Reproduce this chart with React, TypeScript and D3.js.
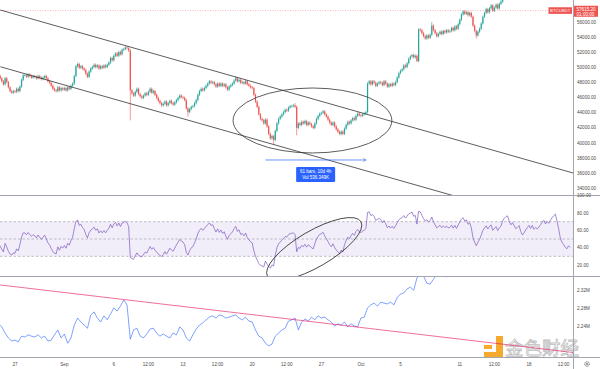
import React from 'react';
import * as d3 from 'd3';

const W = 600;
const H = 369;

// BTCUSDT 4h closes (thousand USDT), first bar 2021-08-23 00:00 UTC
const closes = [
  49.4, 49.7, 49.9, 49.5, 49.2, 49.0, // Aug 23
  48.6, 48.9, 48.4, 47.9, 47.6, 47.8,
  48.0, 48.4, 48.9, 48.6, 48.2, 47.8, // Aug 25
  48.6, 48.1, 47.4, 46.9, 46.7, 46.9,
  46.8, 47.2, 46.9, 47.5, 48.4, 49.0,
  49.0, 48.8, 49.1, 48.9, 48.7, 48.9,
  48.8, 48.6, 48.9, 48.7, 48.5, 48.7,
  48.9, 48.6, 48.2, 48.0, 47.6, 47.2, // Aug 30
  47.0, 46.9, 47.4, 47.0, 47.3, 47.1,
  47.3, 47.0, 47.4, 47.2, 47.6, 47.9, // Sep 1
  48.9, 50.2, 50.5, 50.0, 50.2, 49.9,
  49.7, 49.2, 48.8, 49.5, 49.9, 50.1,
  50.4, 50.1, 50.3, 49.9, 50.2, 50.0,
  50.3, 50.1, 50.4, 50.7, 51.3, 51.0, // Sep 5
  51.6, 51.9, 51.6, 52.1, 51.8, 52.4,
  52.5, 52.7, 52.6, 52.3, 47.0, 46.6,
  46.3, 46.8, 47.2, 46.5, 46.2, 46.0,
  46.3, 46.6, 46.4, 46.8, 47.2, 46.7,
  46.9, 46.4, 46.0, 45.6, 45.3, 45.0, // Sep 10
  45.2, 45.5, 45.0, 45.3, 45.6, 45.3,
  45.1, 45.4, 45.7, 46.0, 46.3, 46.1,
  46.0, 45.7, 44.6, 44.1, 44.5, 44.8,
  44.9, 45.3, 45.7, 46.4, 46.9, 47.2,
  47.0, 47.3, 47.6, 47.9, 48.2, 48.0, // Sep 15
  48.1, 47.8, 47.5, 47.9, 47.6, 47.9,
  47.6, 47.8, 47.4, 47.1, 47.5, 47.7,
  47.9, 48.3, 48.6, 48.2, 48.4, 48.0,
  48.1, 47.9, 48.2, 47.8, 47.6, 47.4,
  47.3, 46.4, 45.5, 44.8, 43.8, 43.2, // Sep 20
  43.0, 42.6, 43.1, 42.2, 41.2, 40.6,
  40.9, 40.4, 41.6, 42.6, 43.2, 43.5,
  43.8, 44.1, 44.4, 44.3, 44.7, 44.9,
  44.9, 45.0, 44.8, 42.0, 42.6, 42.4,
  42.8, 42.6, 42.9, 42.4, 42.7, 42.5, // Sep 25
  42.2, 42.0, 42.6, 43.2, 43.6, 43.9,
  44.0, 44.2, 43.8, 43.5, 43.1, 42.7,
  42.4, 42.7, 42.2, 41.8, 41.5, 41.2,
  41.5, 41.2, 41.9, 42.4, 42.8, 42.6,
  43.0, 43.3, 43.1, 43.6, 43.9, 43.7, // Sep 30
  43.6, 43.8, 43.9, 44.1, 47.9, 48.2, // Oct 1
  47.8, 48.2, 48.0, 47.6, 47.9, 48.1,
  48.0, 47.7, 48.2, 47.9, 47.5, 47.8,
  47.6, 47.9, 47.7, 48.1, 48.7, 49.3,
  49.6, 49.8, 50.3, 50.1, 50.6, 51.2, // Oct 5
  51.5, 51.7, 51.4, 51.6, 50.9, 55.1,
  55.0, 54.6, 54.2, 53.9, 54.3, 54.0,
  54.4, 55.6, 55.0, 54.6, 54.2, 54.5,
  54.8, 54.5, 54.9, 54.7, 55.0, 54.8,
  54.9, 55.3, 55.0, 55.5, 55.2, 55.8, // Oct 10
  56.4, 57.1, 57.5, 57.2, 57.4, 57.0,
  57.3, 56.8, 55.6, 54.9, 54.3, 54.8,
  55.2, 55.9, 56.8, 57.3, 57.8, 57.4,
  57.9, 58.3, 57.6, 58.0, 58.4, 57.9,
  58.5, 58.8, 60.2, 61.0, 61.6, 61.9, // Oct 15
  61.2, 60.8, 61.4, 61.0, 60.6, 60.9,
  61.3, 60.5, 60.0, 60.4, 61.0, 61.5,
  62.0, 61.6, 62.3, 61.8, 62.2, 62.0,
  62.4, 62.9, 63.5, 64.0, 63.6, 64.2,
  64.0, 64.8, 65.5, 66.2, 66.8, 66.0, // Oct 20
  65.0, 63.4, 62.5, 62.0, 61.3, 60.9,
  61.4, 61.0,
];

// long wicks
const wickLows: [string, number][] = [
  ['2021-09-07T16:00', 43.0],
  ['2021-09-13T12:00', 43.5],
  ['2021-09-22T04:00', 39.8],
  ['2021-09-24T12:00', 41.0],
  ['2021-09-29T00:00', 41.0],
  ['2021-10-12T16:00', 53.9],
];
const wickHighs: [string, number][] = [
  ['2021-09-07T04:00', 52.9],
  ['2021-09-18T08:00', 48.9],
  ['2021-09-24T08:00', 45.3],
  ['2021-10-08T04:00', 56.1],
  ['2021-10-15T04:00', 59.4],
];

// On-balance volume (millions), 8h steps from 2021-08-23 00:00 UTC
const obv = [
  2.262, 2.258, 2.255, 2.252, 2.248, 2.250,
  2.249, 2.245, 2.238, 2.224, 2.213, 2.206,
  2.208, 2.204, 2.217, 2.215, 2.220, 2.217,
  2.215, 2.220, 2.213, 2.217, 2.206, 2.208,
  2.220, 2.231, 2.213, 2.222, 2.201, 2.213, // Aug 31, Sep 1
  2.242, 2.258, 2.249, 2.242, 2.235, 2.265,
  2.272, 2.258, 2.249, 2.263, 2.254, 2.267,
  2.281, 2.274, 2.285, 2.299, 2.288, 2.210,
  2.231, 2.235, 2.217, 2.213, 2.222, 2.233,
  2.235, 2.224, 2.217, 2.222, 2.217, 2.213, // Sep 10, 11
  2.224, 2.220, 2.238, 2.231, 2.213, 2.206,
  2.220, 2.233, 2.242, 2.247, 2.254, 2.260,
  2.263, 2.258, 2.265, 2.263, 2.258, 2.260,
  2.263, 2.265, 2.258, 2.254, 2.260, 2.251,
  2.249, 2.231, 2.217, 2.213, 2.201, 2.195, // Sep 20, 21
  2.199, 2.217, 2.224, 2.231, 2.235, 2.251,
  2.254, 2.258, 2.231, 2.249, 2.256, 2.251,
  2.260, 2.254, 2.263, 2.258, 2.260, 2.254,
  2.249, 2.240, 2.245, 2.242, 2.249, 2.238,
  2.245, 2.240, 2.238, 2.258, 2.260, 2.281, // Sep 30, Oct 1
  2.288, 2.292, 2.285, 2.294, 2.292, 2.290,
  2.294, 2.288, 2.305, 2.312, 2.315, 2.324,
  2.328, 2.321, 2.349, 2.356, 2.353, 2.337,
  2.335, 2.346, 2.356, 2.353, 2.356, 2.351,
  2.360, 2.367, 2.371, 2.380, 2.392, 2.398, // Oct 10, 11
  2.390, 2.378, 2.372, 2.385, 2.398, 2.410,
  2.412, 2.418, 2.415, 2.425, 2.440, 2.452,
  2.448, 2.444, 2.446, 2.440, 2.436, 2.445,
  2.452, 2.450, 2.455, 2.462, 2.470, 2.475,
  2.482, 2.490, 2.487, 2.472, 2.462, 2.458,
];

// 58000 sits under the last-price label, so it is not listed
const priceTicks = d3.range(34, 56.1, 2);
const rsiTicks = [100, 80, 60, 40, 20];
const rsiLevels = [70, 50, 30];
const obvTicks = [2.32, 2.28, 2.24];
const timeTicks: [string, string][] = [
  ['2021-08-27T00:00', '27'],
  ['2021-09-01T00:00', 'Sep'],
  ['2021-09-06T00:00', '6'],
  ['2021-09-09T12:00', '12:00'],
  ['2021-09-13T00:00', '13'],
  ['2021-09-16T12:00', '12:00'],
  ['2021-09-20T00:00', '20'],
  ['2021-09-23T12:00', '12:00'],
  ['2021-09-27T00:00', '27'],
  ['2021-10-01T00:00', 'Oct'],
  ['2021-10-05T00:00', '5'],
  ['2021-10-11T00:00', '11'],
  ['2021-10-14T12:00', '12:00'],
  ['2021-10-18T00:00', '18'],
  ['2021-10-21T12:00', '12:00'],
];

const lastPrice = 57.6152;
const symbol = 'BTCUSDT';
const countdown = '01:00:00';

// drawings: trend channel, ellipses, range measure
const channel: [string, number, string, number][] = [
  ['2021-08-25T12:22', 57.69, '2021-10-22T10:48', 36.0],
  ['2021-08-25T12:22', 50.14, '2021-10-22T10:48', 28.45],
];
const obvTrend: [string, number, string, number] = ['2021-08-25T12:22', 2.333, '2021-10-22T10:48', 2.18];
const priceEllipse = { from: '2021-09-18T01:30', to: '2021-10-04T03:00', top: 47.31, bottom: 38.66 };
const rsiEllipse = { from: '2021-09-21T13:00', fromV: 7, to: '2021-10-01T00:00', toV: 70, minor: 18 };
const measure = { from: '2021-09-21T08:00', to: '2021-10-01T12:00', price: 37.73, bars: 61, span: '10d 4h', vol: '536.349K' };

const T = (s: string) => new Date(s + 'Z');
const t0 = Date.UTC(2021, 7, 23);
const H4 = 4 * 3600e3;
const H8 = 8 * 3600e3;

const UP = '#26a69a';
const DOWN = '#ef5350';
const FONT = 'Liberation Sans, Arial, sans-serif';

function calcRsi(v: number[], n = 14) {
  const out: (number | null)[] = v.map(() => null);
  let g = 0, l = 0;
  for (let i = 1; i <= n; i++) {
    const d = v[i] - v[i - 1];
    if (d > 0) g += d; else l -= d;
  }
  g /= n; l /= n;
  out[n] = l === 0 ? 100 : 100 - 100 / (1 + g / l);
  for (let i = n + 1; i < v.length; i++) {
    const d = v[i] - v[i - 1];
    g = (g * (n - 1) + Math.max(d, 0)) / n;
    l = (l * (n - 1) + Math.max(-d, 0)) / n;
    out[i] = l === 0 ? 100 : 100 - 100 / (1 + g / l);
  }
  return out;
}

export default function App() {
  const axisX = 573.5;
  const x = d3.scaleUtc().domain([T('2021-09-01T00:00'), T('2021-10-18T00:00')]).range([64.4, 529]);
  const yP = d3.scaleLinear().domain([34, 56]).range([188, 22.7]);
  const yR = d3.scaleLinear().domain([20, 80]).range([265, 213]);
  const yO = d3.scaleLinear().domain([2.24, 2.32]).range([326, 290.7]);

  const lowMap = new Map(wickLows.map(([s, v]) => [T(s).getTime(), v]));
  const highMap = new Map(wickHighs.map(([s, v]) => [T(s).getTime(), v]));
  const wick = 0.18;
  const candles = closes.map((c, i) => {
    const o = i === 0 ? c : closes[i - 1];
    const t = t0 + i * H4;
    const hi = highMap.get(t) ?? Math.max(o, c) + wick;
    const lo = lowMap.get(t) ?? Math.min(o, c) - wick;
    return { t: new Date(t), o, c, hi, lo };
  });

  const rsi = calcRsi(closes);
  const rsiLine = d3.line<number | null>()
    .defined(d => d !== null)
    .x((_, i) => x(new Date(t0 + i * H4)))
    .y(d => yR(d as number));

  const obvLine = d3.line<number>()
    .x((_, i) => x(new Date(t0 + i * H8)))
    .y(d => yO(d));

  const ex1 = x(T(priceEllipse.from)), ex2 = x(T(priceEllipse.to));
  const ey1 = yP(priceEllipse.top), ey2 = yP(priceEllipse.bottom);

  const rx1 = x(T(rsiEllipse.from)), ry1 = yR(rsiEllipse.fromV);
  const rx2 = x(T(rsiEllipse.to)), ry2 = yR(rsiEllipse.toV);
  const rcx = (rx1 + rx2) / 2, rcy = (ry1 + ry2) / 2;
  const rLen = Math.hypot(rx2 - rx1, ry2 - ry1) / 2;
  const rAng = (Math.atan2(ry2 - ry1, rx2 - rx1) * 180) / Math.PI;

  const mx1 = x(T(measure.from)), mx2 = x(T(measure.to)), my = yP(measure.price);
  const mcx = (mx1 + mx2) / 2;

  const lastY = yP(lastPrice);
  const txt = { fontFamily: FONT, fontSize: 4.6, fill: '#4a4a4a' } as const;

  return (
    <svg width={W} height={H} style={{ position: 'absolute', left: 0, top: 0, background: '#fff' }}>
      <defs>
        <clipPath id="cp"><rect x={0} y={0} width={axisX} height={195} /></clipPath>
        <clipPath id="cr"><rect x={0} y={196} width={axisX} height={80} /></clipPath>
        <clipPath id="co"><rect x={0} y={277} width={axisX} height={80.5} /></clipPath>
      </defs>
      <rect width={W} height={H} fill="#fff" />

      {/* watermark, drawn under everything */}
      <g opacity={0.95}>
        <path d="M484,345 h8 v4 h-8 z M496,336 h7 v22 h-19 v-6 h12 z" fill="#f5a623" />
        <text x={505} y={355} fontFamily="Noto Sans CJK SC" fontSize={18.5} fill="#fff" stroke="#bdbdbd" strokeWidth={0.8}>金色财经</text>
      </g>

      {/* price pane */}
      <g clipPath="url(#cp)">
        <line x1={0} x2={axisX} y1={lastY} y2={lastY} stroke={DOWN} strokeWidth={0.6} strokeDasharray="1 1.5" opacity={0.7} />
        {candles.map((d, i) => {
          const cx = x(d.t);
          const col = d.c >= d.o ? UP : DOWN;
          const top = yP(Math.max(d.o, d.c));
          const h = Math.max(0.6, yP(Math.min(d.o, d.c)) - top);
          return (
            <g key={i}>
              <line x1={cx} x2={cx} y1={yP(d.hi)} y2={yP(d.lo)} stroke={col} strokeWidth={0.6} />
              <rect x={cx - 0.6} y={top} width={1.2} height={h} fill={col} />
            </g>
          );
        })}
        {channel.map(([a, pa, b, pb], i) => (
          <line key={i} x1={x(T(a))} y1={yP(pa)} x2={x(T(b))} y2={yP(pb)} stroke="#333" strokeWidth={0.8} />
        ))}
        <ellipse cx={(ex1 + ex2) / 2} cy={(ey1 + ey2) / 2} rx={(ex2 - ex1) / 2} ry={(ey2 - ey1) / 2}
          fill="none" stroke="#333" strokeWidth={0.8} />
        <line x1={mx1} x2={mx2} y1={my} y2={my} stroke="#2962ff" strokeWidth={0.9} opacity={0.75} />
        <path d={`M${mx2 - 2.5},${my - 1.6} L${mx2},${my} L${mx2 - 2.5},${my + 1.6}`} fill="none" stroke="#2962ff" strokeWidth={0.8} opacity={0.75} />
        <rect x={mcx - 19.5} y={my + 7} width={39} height={15} rx={1} fill="#2962ff" />
        <text x={mcx} y={my + 13.2} textAnchor="middle" fontFamily={FONT} fontSize={4.5} fill="#fff">
          {`${measure.bars} bars, ${measure.span}`}
        </text>
        <text x={mcx} y={my + 19.2} textAnchor="middle" fontFamily={FONT} fontSize={4.5} fill="#fff">
          {`Vol ${measure.vol}`}
        </text>
      </g>

      {/* RSI pane */}
      <g clipPath="url(#cr)">
        <rect x={0} y={yR(70)} width={axisX} height={yR(30) - yR(70)} fill="#7e57c2" opacity={0.1} />
        {rsiLevels.map(v => (
          <line key={v} x1={0} x2={axisX} y1={yR(v)} y2={yR(v)} stroke="#9598a1" strokeWidth={0.6} strokeDasharray="2.5 2" />
        ))}
        <path d={rsiLine(rsi) || ''} fill="none" stroke="#7e57c2" strokeWidth={0.7} />
        <ellipse cx={rcx} cy={rcy} rx={rLen} ry={rsiEllipse.minor} transform={`rotate(${rAng} ${rcx} ${rcy})`}
          fill="none" stroke="#333" strokeWidth={0.8} />
      </g>

      {/* OBV pane */}
      <g clipPath="url(#co)">
        <path d={obvLine(obv) || ''} fill="none" stroke="#2962ff" strokeWidth={0.7} opacity={0.85} />
        <line x1={x(T(obvTrend[0]))} y1={yO(obvTrend[1])} x2={x(T(obvTrend[2]))} y2={yO(obvTrend[3])}
          stroke="#e91e63" strokeWidth={0.8} opacity={0.8} />
      </g>

      {/* separators and axes */}
      <line x1={0} x2={W} y1={195.5} y2={195.5} stroke="#a3a6af" strokeWidth={1} />
      <line x1={0} x2={W} y1={276.5} y2={276.5} stroke="#a3a6af" strokeWidth={1} />
      <line x1={0} x2={W} y1={357.5} y2={357.5} stroke="#a3a6af" strokeWidth={1} />
      <line x1={axisX} x2={axisX} y1={0} y2={H} stroke="#a3a6af" strokeWidth={1} />

      {priceTicks.map(v => (
        <text key={v} x={577} y={yP(v) + 1.6} {...txt}>{(v * 1000).toFixed(2)}</text>
      ))}
      {rsiTicks.map(v => (
        <text key={v} x={577} y={yR(v) + 1.6} {...txt}>{v.toFixed(2)}</text>
      ))}
      {obvTicks.map(v => (
        <text key={v} x={577} y={yO(v) + 1.6} {...txt}>{v.toFixed(2) + 'M'}</text>
      ))}
      {timeTicks.map(([s, lab], i) => (
        <text key={i} x={x(T(s))} y={365.8} textAnchor="middle" {...txt}>{lab}</text>
      ))}

      {/* last price labels */}
      <rect x={548.5} y={lastY - 3.3} width={23.5} height={6.6} fill={DOWN} />
      <text x={560.2} y={lastY + 1.6} textAnchor="middle" fontFamily={FONT} fontSize={4.3} fill="#fff">{symbol}</text>
      <rect x={574} y={lastY - 4.8} width={24} height={11} fill={DOWN} />
      <text x={576.5} y={lastY + 0.3} fontFamily={FONT} fontSize={4.6} fill="#fff">{(lastPrice * 1000).toFixed(2)}</text>
      <text x={576.5} y={lastY + 5.3} fontFamily={FONT} fontSize={4.6} fill="#fff">{countdown}</text>

      {/* settings gear */}
      <circle cx={587} cy={364} r={2.3} fill="none" stroke="#555" strokeWidth={0.8} strokeDasharray="1.2 0.6" />
      <circle cx={587} cy={364} r={0.9} fill="none" stroke="#555" strokeWidth={0.6} />
    </svg>
  );
}
